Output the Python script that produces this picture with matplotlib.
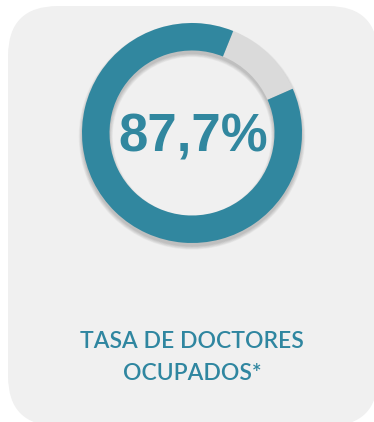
import matplotlib.pyplot as plt
from matplotlib.patches import FancyBboxPatch

# tasa de doctores ocupados (%)
ocupados = 87.7
resto = 100 - ocupados
valores = [resto, ocupados]
colores = ['#dadada', '#31879f']
etiqueta = ['TASA DE DOCTORES', 'OCUPADOS*']

W, H = 374, 422
fig = plt.figure(figsize=(W / 100, H / 100), dpi=100)
fig.patch.set_facecolor('white')

# fondo de la tarjeta (coordenadas en pixeles)
bg = fig.add_axes([0, 0, 1, 1])
bg.set_xlim(0, W)
bg.set_ylim(H, 0)
bg.axis('off')
bg.add_patch(FancyBboxPatch((8 + 50, 6 + 50), 370 - 100, 420 - 100,
                            boxstyle='round,pad=50', fc='#f0f0f0', ec='none'))

# anillo
cx, cy, r = 192, 133, 110
ax = fig.add_axes([(cx - r) / W, (H - cy - r) / H, 2 * r / W, 2 * r / H])
ax.axis('off')

# sombra difusa bajo el anillo
for k in range(6):
    e = 0.006 * k
    ax.pie([1], colors=['#000000'], radius=1 + e, center=(0, -0.03),
           wedgeprops=dict(width=0.25 + 2 * e, alpha=0.035, lw=0))

ax.pie(valores, colors=colores, startangle=68, counterclock=False,
       radius=1, wedgeprops=dict(width=0.25, lw=0))
ax.set_xlim(-1, 1)
ax.set_ylim(-1, 1)

bg.text(cx + 1, 138, f'{ocupados:.1f}%'.replace('.', ','), ha='center', va='center',
        fontsize=38, fontweight='bold', family='Liberation Sans', color='#31879f')

for i, linea in enumerate(etiqueta):
    bg.text(W / 2 + 5, 342 + 32 * i, linea, ha='center', va='center',
            fontsize=16.5, fontweight='semibold', family='Lato', color='#2f86a0')

fig.savefig('out.png', dpi=100, facecolor='white')
